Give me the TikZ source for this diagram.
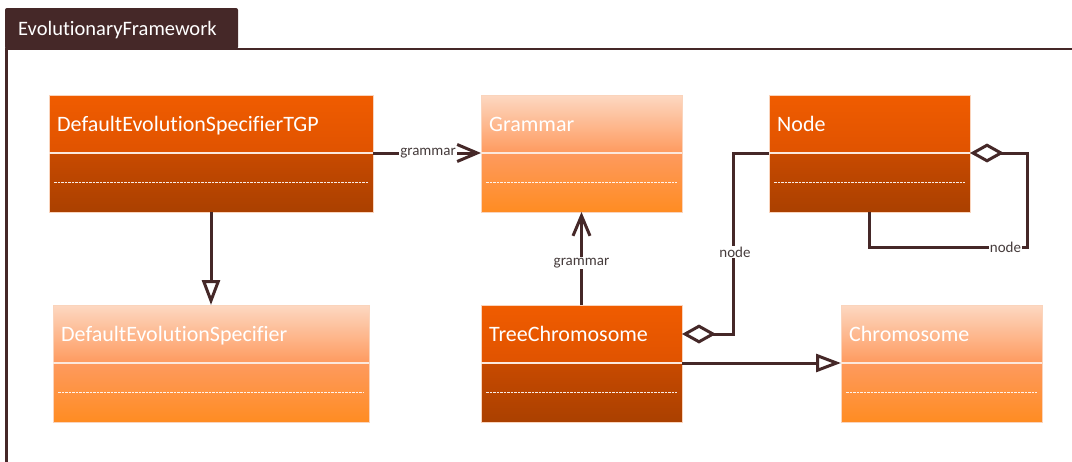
\documentclass[tikz,border=0pt]{standalone}
\usepackage{fontspec}
\setmainfont{Carlito}[Ligatures=NoCommon]
\usetikzlibrary{arrows.meta,calc}

\definecolor{umlbrown}{RGB}{69,40,40}
\definecolor{lblgray}{RGB}{70,60,60}
\definecolor{boxedge}{RGB}{250,212,188}
\definecolor{divcol}{RGB}{252,232,220}

% one UML class: name, left x, top y, width, kind (dark/light), title
\newcommand{\umlclass}[6]{%
  \node[classhead, #5head, minimum width=#4pt, anchor=north west] (#1) at (#2,#3) {};
  \node[classbody, #5body, minimum width=#4pt, anchor=north west] (#1-b) at (#1.south west) {};
  \draw[divider] (#1.south west) -- (#1.south east);
  \draw[attrsep] ([xshift=5pt]#1-b.west) -- ([xshift=-5pt]#1-b.east);
  \node[classname, anchor=base west] at ([xshift=8pt,yshift=-36.5pt]#1.north west) {#6};
}

\begin{document}
\begin{tikzpicture}[x=1pt,y=-1pt,
  classhead/.style={rectangle, draw=boxedge, line width=0.8pt, inner sep=0pt, outer sep=0pt, minimum height=58pt},
  classbody/.style={rectangle, draw=boxedge, line width=0.8pt, inner sep=0pt, outer sep=0pt, minimum height=59pt},
  darkhead/.style={top color={rgb,255:red,240;green,92;blue,0}, bottom color={rgb,255:red,224;green,83;blue,0}},
  darkbody/.style={top color={rgb,255:red,200;green,74;blue,0}, middle color={rgb,255:red,174;green,65;blue,0}, bottom color={rgb,255:red,170;green,64;blue,0}},
  lighthead/.style={top color={rgb,255:red,253;green,216;blue,194}, bottom color={rgb,255:red,254;green,154;blue,94}},
  lightbody/.style={top color={rgb,255:red,254;green,154;blue,94}, middle color={rgb,255:red,254;green,150;blue,88}, bottom color={rgb,255:red,255;green,140;blue,34}},
  divider/.style={draw=divcol, line width=1.5pt},
  attrsep/.style={draw=white, line width=1pt, dash pattern=on 2.5pt off 1pt, opacity=0.9},
  classname/.style={text=white, inner sep=0pt, font=\fontsize{22}{26}\selectfont},
  conn/.style={draw=umlbrown, line width=3pt},
  lbl/.style={fill=white, text=lblgray, inner sep=1pt, font=\fontsize{15}{18}\selectfont},
  assoc/.style={-{Straight Barb[length=20pt,width=17pt]}},
  inherit/.style={-{Triangle[length=25pt,width=18pt,fill=white]}},
  aggr/.style={{Diamond[length=34pt,width=19pt,fill=white]}-},
  tab/.style={fill=umlbrown, rounded corners=2pt},
  tabtext/.style={text=white, inner sep=0pt, font=\fontsize{20.5}{24}\selectfont}
]
\useasboundingbox (0,0) rectangle (1072,461);

% package frame with its tab
\fill[tab] (5,49) -- (5,8) -- (238,8) -- (238,49) -- cycle;
\node[tabtext, anchor=base west] (pkg) at (18,35) {EvolutionaryFramework};
\draw[umlbrown, line width=2.5pt] (6.5,470) -- (6.5,49) -- (1080,49);

% classes
\umlclass{tgp}{49}{95}{324}{dark}{DefaultEvolutionSpecifierTGP}
\umlclass{gram}{481}{95}{201}{light}{Grammar}
\umlclass{nd}{769}{95}{201}{dark}{Node}
\umlclass{des}{53}{305}{316}{light}{DefaultEvolutionSpecifier}
\umlclass{tree}{481}{305}{201}{dark}{TreeChromosome}
\umlclass{chrom}{841}{305}{201}{light}{Chromosome}

% bends of the aggregation paths
\coordinate (bend) at ($(nd.south west)+(-36,0)$);
\coordinate (loop) at ($(nd-b.south)+(0,35)$);

% associations
\draw[conn, assoc] (tgp.south east) -- node[lbl, pos=0.51] {grammar} (gram.south west);
\draw[conn, assoc] (tree.north) -- node[lbl, pos=0.45] {grammar} (gram-b.south);

% generalizations
\draw[conn, inherit] (tgp-b.south) -- (des.north);
\draw[conn, inherit] (tree.south east) -- (chrom.south west);

% aggregations
\draw[conn, aggr] (tree.east) -| (bend) -- (nd.south west);
\node[lbl] at ($(bend)+(2,99)$) {node};
\draw[conn, aggr] (nd.south east) -- ++(57,0) |- (loop) -- (nd-b.south);
\node[lbl] at ($(loop)+(136,0)$) {node};
\end{tikzpicture}
\end{document}
